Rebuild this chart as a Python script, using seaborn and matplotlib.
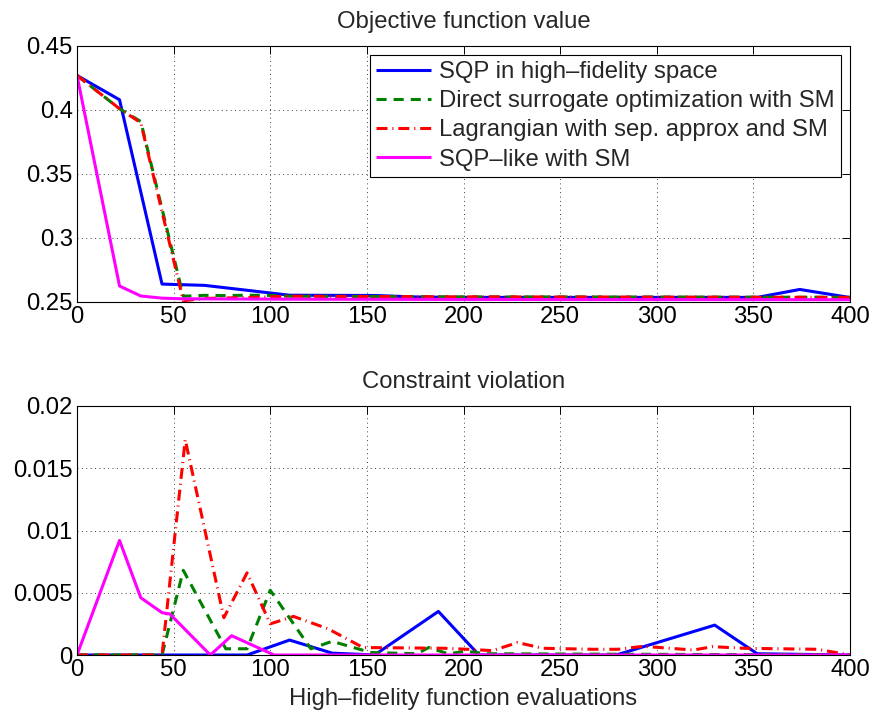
import matplotlib
matplotlib.use("Agg")
import matplotlib.pyplot as plt
import seaborn as sns
import pandas as pd
from matplotlib.ticker import FuncFormatter

# ---------------- data ----------------
labels = ["SQP in high\u2013fidelity space",
          "Direct surrogate optimization with SM",
          "Lagrangian with sep. approx and SM",
          "SQP\u2013like with SM"]

# Objective function value
obj_x_sqp = [0, 22, 44, 66, 110, 154, 176, 198, 352, 374, 400]
obj_y_sqp = [0.427, 0.408, 0.264, 0.263, 0.2553, 0.2551, 0.2539, 0.2536, 0.2536, 0.2598, 0.2535]

obj_x_dir = [0, 22, 33, 55, 66, 77, 88, 99, 110, 200, 400]
obj_y_dir = [0.427, 0.401, 0.391, 0.2545, 0.2552, 0.2550, 0.2553, 0.2552, 0.2545, 0.2540, 0.2537]

obj_x_lag = [0, 22, 33, 55, 66, 88, 110, 200, 400]
obj_y_lag = [0.427, 0.401, 0.390, 0.2510, 0.2528, 0.2535, 0.2545, 0.2540, 0.2536]

obj_x_like = [0, 22, 33, 44, 55, 110, 200, 400]
obj_y_like = [0.427, 0.2625, 0.2547, 0.2530, 0.2525, 0.2522, 0.2520, 0.2518]

# Constraint violation
con_x_sqp = [0, 88, 110, 132, 154, 187, 208, 279, 330, 352, 400]
con_y_sqp = [0, 0, 0.0012, 0.00015, 0, 0.0035, 0, 0, 0.0024, 0.0001, 0]

con_x_dir = [0, 44, 55, 77, 88, 100, 121, 132, 152, 176, 182, 192, 201, 212, 400]
con_y_dir = [0, 0, 0.0068, 0.0005, 0.0005, 0.0052, 0.0005, 0.0011, 0.0002, 0.0001,
             0.0006, 0.0001, 0.0003, 0.0001, 0]

con_x_lag = [0, 44, 56, 76, 88, 100, 112, 130, 148, 190, 202, 215, 228, 241, 267,
             280, 293, 319, 329, 345, 383, 400]
con_y_lag = [0, 0, 0.0173, 0.0030, 0.0066, 0.0025, 0.0031, 0.0021, 0.0006, 0.00054,
             0.00046, 0.00035, 0.0010, 0.00054, 0.00046, 0.00046, 0.0007, 0.0004,
             0.00067, 0.00054, 0.00046, 0]

con_x_like = [0, 22, 33, 44, 48, 69, 80, 102, 400]
con_y_like = [0, 0.0092, 0.0046, 0.0034, 0.0033, 0, 0.00155, 0, 0]

x_ticks = [0, 50, 100, 150, 200, 250, 300, 350, 400]
obj_ticks = [0.25, 0.3, 0.35, 0.4, 0.45]
con_ticks = [0, 0.005, 0.01, 0.015, 0.02]

titles = ["Objective function value", "Constraint violation"]
xlabel = "High\u2013fidelity function evaluations"

# ---------------- style ----------------
sns.set_style("white")
plt.rcParams["font.family"] = ["Liberation Sans", "DejaVu Sans"]
FS = 17.2

colors = ["#0000ff", "#008000", "#ff0000", "#ff00ff"]
dashes = [None, (3.3, 2.3), (3.6, 1.6, 0.35, 1.6), None]
LW = 2.2

fig = plt.figure(figsize=(8.72, 7.17), dpi=100)
ax1 = fig.add_axes([77 / 872, 1 - 302 / 717, (850 - 77) / 872, (302 - 46) / 717])
ax2 = fig.add_axes([77 / 872, 1 - 655 / 717, (850 - 77) / 872, (655 - 406) / 717])

obj_series = [(obj_x_sqp, obj_y_sqp), (obj_x_dir, obj_y_dir),
              (obj_x_lag, obj_y_lag), (obj_x_like, obj_y_like)]
con_series = [(con_x_sqp, con_y_sqp), (con_x_dir, con_y_dir),
              (con_x_lag, con_y_lag), (con_x_like, con_y_like)]

for ax, series in [(ax1, obj_series), (ax2, con_series)]:
    for i, (xs, ys) in enumerate(series):
        df = pd.DataFrame({"x": xs, "y": ys})
        sns.lineplot(data=df, x="x", y="y", ax=ax, color=colors[i], lw=LW,
                     sort=False, estimator=None, label=labels[i], zorder=3 + i)
        line = ax.get_lines()[-1]
        if dashes[i] is not None:
            line.set_dashes(dashes[i])
        line.set_dash_capstyle("butt")
        line.set_solid_capstyle("butt")

for ax, yt, ttl in [(ax1, obj_ticks, titles[0]), (ax2, con_ticks, titles[1])]:
    ax.set_xlim(0, 400)
    ax.set_ylim(yt[0], yt[-1])
    ax.set_xticks(x_ticks)
    ax.set_yticks(yt)
    ax.yaxis.set_major_formatter(FuncFormatter(lambda v, p: "%g" % v))
    ax.set_xlabel("")
    ax.set_ylabel("")
    ax.set_title(ttl, fontsize=FS, pad=13)
    ax.grid(True, color="0.25", linestyle=(0, (1, 3.5)), linewidth=0.7)
    ax.tick_params(direction="in", length=6, width=0.7, top=True, right=True,
                   labelsize=FS, pad=3, colors="black")
    for s in ax.spines.values():
        s.set_color("black")
        s.set_linewidth(0.8)
        s.set_zorder(10)

ax2.set_xlabel(xlabel, fontsize=FS, labelpad=5)

if ax2.get_legend() is not None:
    ax2.get_legend().remove()
leg = ax1.legend(loc="upper right", fontsize=FS, frameon=True, fancybox=False,
                 edgecolor="black", framealpha=1, borderaxespad=0.38,
                 handlelength=2.3, handletextpad=0.35, labelspacing=0.3,
                 borderpad=0.25)
leg.get_frame().set_linewidth(0.8)
leg.set_zorder(20)

fig.savefig("out.png", dpi=100)
